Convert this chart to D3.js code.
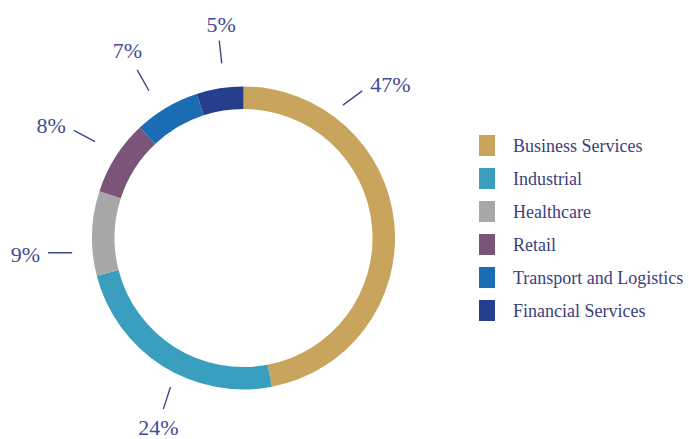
<!DOCTYPE html>
<html>
<head>
<meta charset="utf-8">
<script src="https://cdn.jsdelivr.net/npm/d3@7"></script>
<style>
  html, body { margin: 0; padding: 0; background: #ffffff; }
  svg { display: block; }
</style>
</head>
<body>
<svg id="chart" width="689" height="439"></svg>
<script>
// ---- data ----
const categories = ["Business Services", "Industrial", "Healthcare", "Retail", "Transport and Logistics", "Financial Services"];
const shares = [47, 24, 9, 8, 7, 5];
const shareLabels = ["47%", "24%", "9%", "8%", "7%", "5%"];

// ---- styles / layout ----
const colors = ["#c8a45c", "#3a9fbe", "#a8a8a8", "#7a5479", "#1a6cb5", "#253f8e"];
const cx = 243.5, cy = 238, rOuter = 151.5, rInner = 129;
// leader line polar endpoints [angle1, r1, angle2, r2] and text offsets from outer end
const labelLayout = [
  { a1: 36.8, r1: 166, a2: 38.9, r2: 189, anchor: "start",  dx: 8,  dy: 1 },
  { a1: 206.1, r1: 166, a2: 205.1, r2: 189, anchor: "middle", dx: -5, dy: 26 },
  { a1: 265.1, r1: 172, a2: 265.7, r2: 196, anchor: "end",    dx: -8, dy: 9 },
  { a1: 303.0, r1: 177, a2: 302.4, r2: 201, anchor: "end",    dx: -8, dy: 3 },
  { a1: 327.3, r1: 175, a2: 327.7, r2: 199, anchor: "end",    dx: 5,  dy: -12 },
  { a1: 352.9, r1: 176, a2: 353.0, r2: 199, anchor: "middle", dx: 2,  dy: -8 }
];

const svg = d3.select("#chart");
const color = d3.scaleOrdinal().domain(categories).range(colors);

const pie = d3.pie().sort(null).value(d => d.value).startAngle(0).endAngle(2 * Math.PI);
const data = categories.map((c, i) => ({ cat: c, value: shares[i], label: shareLabels[i] }));
const arcs = pie(data);
const arc = d3.arc().innerRadius(rInner).outerRadius(rOuter);

const g = svg.append("g").attr("transform", `translate(${cx},${cy})`);
g.selectAll("path.slice")
  .data(arcs)
  .join("path")
  .attr("class", "slice")
  .attr("d", arc)
  .attr("fill", d => color(d.data.cat));

// leader lines and labels
const rad = deg => deg * Math.PI / 180;
arcs.forEach((d, i) => {
  const L = labelLayout[i];
  const p1 = d3.pointRadial(rad(L.a1), L.r1);
  const p2 = d3.pointRadial(rad(L.a2), L.r2);
  g.append("line")
    .attr("x1", p1[0]).attr("y1", p1[1])
    .attr("x2", p2[0]).attr("y2", p2[1])
    .attr("stroke", "#3d4784")
    .attr("stroke-width", 1.4);
  g.append("text")
    .attr("x", p2[0] + L.dx)
    .attr("y", p2[1] + L.dy)
    .attr("text-anchor", L.anchor)
    .attr("font-family", "'Liberation Serif', 'DejaVu Serif', serif")
    .attr("font-size", 22)
    .attr("fill", "#434c94")
    .text(d.data.label);
});

// legend
const legend = svg.append("g").attr("transform", "translate(479,135)");
const step = 33;
const items = legend.selectAll("g.item")
  .data(categories)
  .join("g")
  .attr("class", "item")
  .attr("transform", (d, i) => `translate(0,${i * step})`);
items.append("rect")
  .attr("width", 16)
  .attr("height", 21)
  .attr("fill", d => color(d));
items.append("text")
  .attr("x", 34)
  .attr("y", 16.5)
  .attr("font-family", "'Liberation Serif', 'DejaVu Serif', serif")
  .attr("font-size", 18)
  .attr("fill", "#3b3f7e")
  .text(d => d);
</script>
</body>
</html>
